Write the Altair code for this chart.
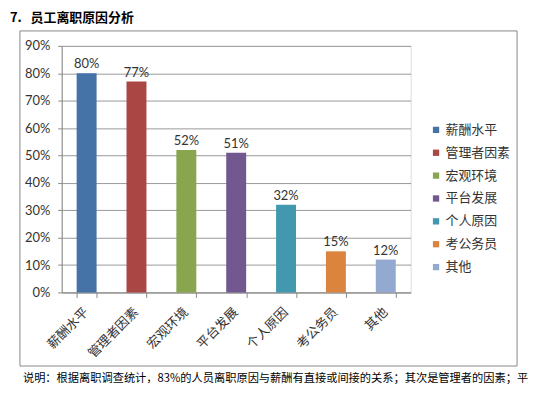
import altair as alt
import pandas as pd

categories = ["薪酬水平", "管理者因素", "宏观环境", "平台发展", "个人原因", "考公务员", "其他"]
values = [0.80, 0.77, 0.52, 0.51, 0.32, 0.15, 0.12]
colors = ["#4572A7", "#AA4643", "#89A54E", "#71588F", "#4198AF", "#DB843D", "#93A9CF"]
y_ticks = [0.0, 0.1, 0.2, 0.3, 0.4, 0.5, 0.6, 0.7, 0.8, 0.9]
title_text = "7.\u00a0\u00a0 员工离职原因分析"
note_text = "说明：根据离职调查统计，83%的人员离职原因与薪酬有直接或间接的关系；其次是管理者的因素；平"

df = pd.DataFrame({"cat": categories, "val": values})

W, H = 351, 248
CJK = "Noto Sans CJK SC"
NUM = "Lato"

x = alt.X("cat:N", sort=categories, title=None,
          scale=alt.Scale(paddingInner=0.6, paddingOuter=0.3),
          axis=alt.Axis(labelAngle=-45, labelAlign="right", labelBaseline="top",
                        labelFont=CJK, labelFontSize=13, labelColor="#333",
                        tickBand="extent", tickSize=5, tickColor="#888",
                        domainColor="#888", labelPadding=8, labelOffset=-5, grid=False))
y = alt.Y("val:Q", title=None,
          scale=alt.Scale(domain=[0, 0.9], nice=False),
          axis=alt.Axis(format=".0%", values=y_ticks, labelOverlap=False,
                        labelFont=NUM, labelFontSize=13, labelColor="#333",
                        tickSize=4, tickColor="#888", domainColor="#888",
                        gridColor="#999", gridWidth=1, labelPadding=8))

bars = alt.Chart(df).mark_bar().encode(
    x=x, y=y,
    color=alt.Color("cat:N", sort=categories,
                    scale=alt.Scale(domain=categories, range=colors),
                    legend=alt.Legend(title=None, orient="none", legendX=370, legendY=78,
                                      symbolType="square", symbolSize=40, symbolStrokeWidth=0,
                                      labelFont=CJK, labelFontSize=13, labelColor="#333",
                                      rowPadding=9, labelOffset=3)),
)

labels = alt.Chart(df).mark_text(dy=-9, font=NUM, fontSize=13, color="#333").encode(
    x=x, y=y, text=alt.Text("val:Q", format=".0%"))

border = alt.Chart(pd.DataFrame({"a": [0]})).mark_rect(fill=None, stroke="#888", strokeWidth=1).encode(
    x=alt.value(-42), x2=alt.value(458), y=alt.value(-15), y2=alt.value(74 + H))

title = alt.Chart(pd.DataFrame({"t": [title_text]})).mark_text(
    align="left", baseline="middle", font=CJK, fontSize=13, fontWeight="bold", color="#000").encode(
    x=alt.value(-52), y=alt.value(-28), text="t:N")

note = alt.Chart(pd.DataFrame({"t": [note_text]})).mark_text(
    align="left", baseline="middle", font=CJK, fontSize=11.3, color="#000").encode(
    x=alt.value(-39), y=alt.value(H + 87), text="t:N")

chart = alt.layer(border, bars, labels, title, note).properties(
    width=W, height=H,
    autosize=alt.AutoSizeParams(type="none"),
    padding={"left": 54, "top": 37, "right": 120, "bottom": 92},
).configure_view(stroke=None).configure(background="white")

chart.save("out.html", embed_options={"renderer": "svg", "actions": False})
